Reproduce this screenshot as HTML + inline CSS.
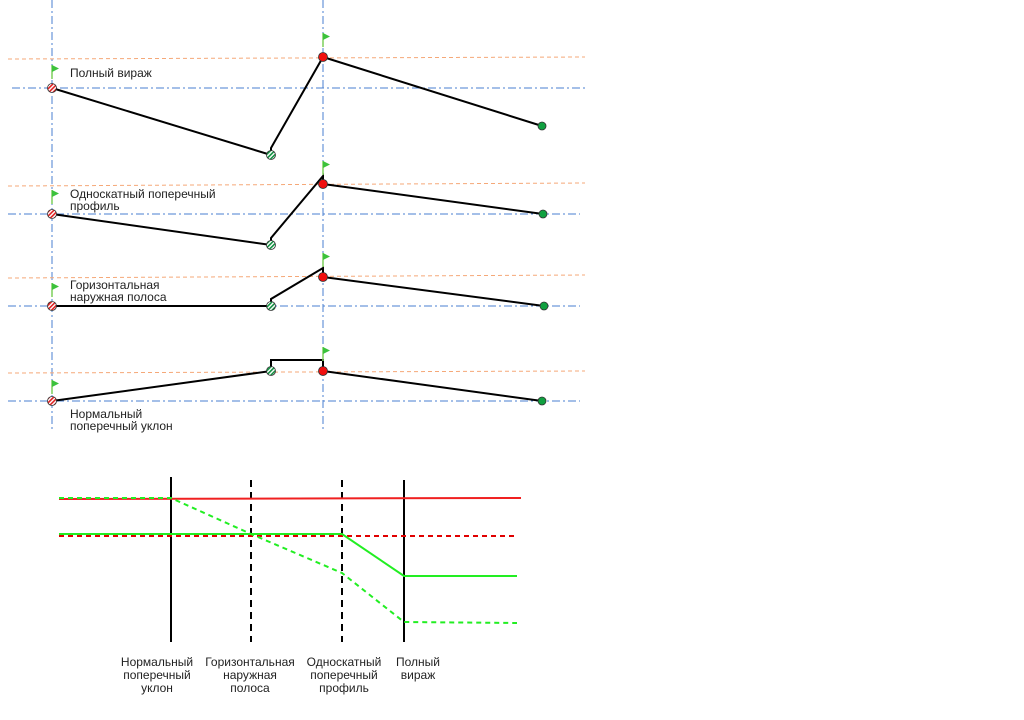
<!DOCTYPE html>
<html><head><meta charset="utf-8"><style>body{margin:0;background:#fff}svg{display:block}text{font-family:"Liberation Sans",sans-serif;fill:#222}</style></head><body>
<svg width="1024" height="720" viewBox="0 0 1024 720">
<defs>
<pattern id="hr" width="3" height="3" patternUnits="userSpaceOnUse" patternTransform="rotate(45)"><rect width="3" height="3" fill="#fff"/><rect width="1.6" height="3" fill="#e02020"/></pattern>
<pattern id="hg" width="3" height="3" patternUnits="userSpaceOnUse" patternTransform="rotate(45)"><rect width="3" height="3" fill="#fff"/><rect width="1.6" height="3" fill="#109040"/></pattern>
<g id="flag"><line x1="0" y1="0" x2="0" y2="14" stroke="#7ccf5a" stroke-width="1.5"/><polygon points="0,0 7,3.5 0,7" fill="#3cc23c"/></g>
</defs>
<g stroke="#4a7fd0" stroke-width="1" stroke-dasharray="8,3,2,3" fill="none">
<line x1="52" y1="0" x2="52" y2="432"/><line x1="323" y1="0" x2="323" y2="432"/>
<line x1="12" y1="88" x2="585" y2="88"/><line x1="8" y1="214" x2="580" y2="214"/>
<line x1="8" y1="306" x2="580" y2="306"/><line x1="8" y1="401" x2="580" y2="401"/>
</g>
<g stroke="#f5a878" stroke-width="1" stroke-dasharray="4,3" fill="none">
<line x1="8" y1="59" x2="585" y2="57"/><line x1="8" y1="186" x2="585" y2="183"/>
<line x1="8" y1="278" x2="585" y2="275"/><line x1="8" y1="373" x2="585" y2="371"/>
</g>
<g stroke="#000" stroke-width="2" fill="none">
<polyline points="52,88 271,155 271,148 323,57 542,126"/>
<polyline points="52,214 271,245 271,238 323,176 323,184 543,214"/>
<polyline points="52,306 271,306 271,299 323,268 323,277 544,306"/>
<polyline points="52,401 271,371 271,360 323,360 323,371 542,401"/>
</g>
<g stroke="#333" stroke-width="0.8">
<circle cx="52" cy="88" r="4.5" fill="url(#hr)"/><circle cx="271" cy="155" r="4.5" fill="url(#hg)"/>
<circle cx="52" cy="214" r="4.5" fill="url(#hr)"/><circle cx="271" cy="245" r="4.5" fill="url(#hg)"/>
<circle cx="52" cy="306" r="4.5" fill="url(#hr)"/><circle cx="271" cy="306" r="4.5" fill="url(#hg)"/>
<circle cx="52" cy="401" r="4.5" fill="url(#hr)"/><circle cx="271" cy="371" r="4.5" fill="url(#hg)"/>
<circle cx="323" cy="57" r="4.5" fill="#f01010"/><circle cx="323" cy="184" r="4.5" fill="#f01010"/>
<circle cx="323" cy="277" r="4.5" fill="#f01010"/><circle cx="323" cy="371" r="4.5" fill="#f01010"/>
<circle cx="542" cy="126" r="4" fill="#10a040"/><circle cx="543" cy="214" r="4" fill="#10a040"/>
<circle cx="544" cy="306" r="4" fill="#10a040"/><circle cx="542" cy="401" r="4" fill="#10a040"/>
</g>
<use href="#flag" x="52" y="65"/><use href="#flag" x="52" y="190"/><use href="#flag" x="52" y="283"/><use href="#flag" x="52" y="380"/>
<use href="#flag" x="323" y="33"/><use href="#flag" x="323" y="161"/><use href="#flag" x="323" y="253"/><use href="#flag" x="323" y="347"/>
<g font-size="12">
<text x="70" y="77">Полный вираж</text>
<text x="70" y="198">Односкатный поперечный</text><text x="70" y="210">профиль</text>
<text x="70" y="289">Горизонтальная</text><text x="70" y="301">наружная полоса</text>
<text x="70" y="418">Нормальный</text><text x="70" y="430">поперечный уклон</text>
</g>
<g stroke="#000" stroke-width="2">
<line x1="171" y1="477" x2="171" y2="642"/><line x1="404" y1="480" x2="404" y2="642"/>
<line x1="251" y1="480" x2="251" y2="642" stroke-dasharray="7,5"/><line x1="342" y1="480" x2="342" y2="642" stroke-dasharray="7,5"/>
</g>
<g fill="none" stroke-width="2">
<line x1="59" y1="499" x2="521" y2="498" stroke="#f02020"/>
<line x1="59" y1="536" x2="517" y2="536" stroke="#e00000" stroke-dasharray="5,4"/>
<polyline points="59,534 342,534 404,576 517,576" stroke="#22ee22"/>
<polyline points="59,498 171,498 251,534 342,573 404,622 517,623" stroke="#22ee22" stroke-dasharray="5,4"/>
</g>
<g font-size="12" text-anchor="middle">
<text x="157" y="666">Нормальный</text><text x="157" y="679">поперечный</text><text x="157" y="692">уклон</text>
<text x="250" y="666">Горизонтальная</text><text x="250" y="679">наружная</text><text x="250" y="692">полоса</text>
<text x="344" y="666">Односкатный</text><text x="344" y="679">поперечный</text><text x="344" y="692">профиль</text>
<text x="418" y="666">Полный</text><text x="418" y="679">вираж</text>
</g>
</svg>
</body></html>
